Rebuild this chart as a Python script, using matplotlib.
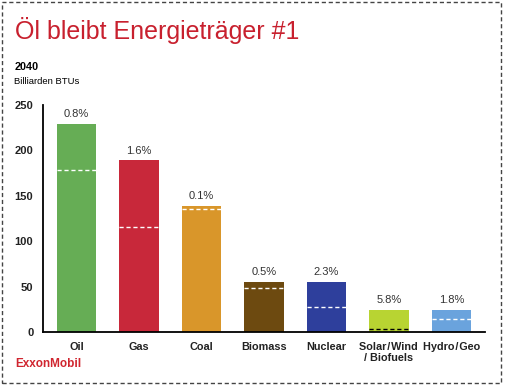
import matplotlib.pyplot as plt
from matplotlib.patches import Rectangle

plt.rcParams['font.family'] = ['Liberation Sans', 'DejaVu Sans']

# data (2040, Billiarden BTUs)
categories = ['Oil', 'Gas', 'Coal', 'Biomass', 'Nuclear',
              'Solar\u200a/\u200aWind\n/ Biofuels', 'Hydro\u200a/\u200aGeo']
values_2040 = [229, 189, 139, 56, 56, 25, 24.5]
values_2010 = [179, 116, 136, 49, 28, 4, 14.5]   # dashed markers inside bars
growth = ['0.8%', '1.6%', '0.1%', '0.5%', '2.3%', '5.8%', '1.8%']
colors = ['#66ad55', '#c8283a', '#d9962a', '#6d4a10', '#2e3f9c', '#b8d432', '#6aa3dd']
dash_colors = ['white', 'white', 'white', 'white', 'white', 'black', 'white']

fig = plt.figure(figsize=(5.06, 3.85), dpi=100)
ax = fig.add_axes([0.085, 0.1364, 0.8735, 0.5909])

w = 0.63
x = range(len(categories))
ax.bar(x, values_2040, width=w, color=colors)
for i, (lvl, c) in enumerate(zip(values_2010, dash_colors)):
    ax.hlines(lvl, i - w / 2, i + w / 2, colors=c, linestyles=(0, (3, 2)), lw=1)
for i, (v, g) in enumerate(zip(values_2040, growth)):
    ax.annotate(g, (i, v), xytext=(0, 3.5), textcoords='offset points',
                ha='center', va='bottom', fontsize=8, color='#333333')

ax.set_xlim(-0.54, 6.54)
ax.set_ylim(0, 250)
ax.set_yticks([0, 50, 100, 150, 200, 250])
ax.set_xticks(list(x))
ax.set_xticklabels(categories, fontsize=7.8, fontweight='bold', color='#222222',
                   linespacing=1.1)
ax.tick_params(axis='y', labelsize=8, length=0, pad=7, labelcolor='#222222')
ax.tick_params(axis='x', length=0, pad=7)
for lab in ax.get_yticklabels():
    lab.set_fontweight('bold')
for s in ['top', 'right']:
    ax.spines[s].set_visible(False)
ax.spines['left'].set_linewidth(1.3)
ax.spines['bottom'].set_linewidth(1.3)

fig.text(0.03, 0.899, 'Öl bleibt Energieträger #1', fontsize=18, color='#c8202e', va='baseline')
fig.text(0.028, 0.818, '2040', fontsize=7.8, fontweight='bold', va='baseline')
fig.text(0.028, 0.783, 'Billiarden BTUs', fontsize=6.8, va='baseline')
fig.text(0.03, 0.047, 'ExxonMobil', fontsize=8.5, fontweight='bold', color='#d0252f', va='baseline')

fig.patches.append(Rectangle((0.003, 0.005), 0.988, 0.99, transform=fig.transFigure,
                             fill=False, edgecolor='#444444', lw=1, linestyle=(0, (3, 2))))

fig.savefig('out.png', dpi=100)
